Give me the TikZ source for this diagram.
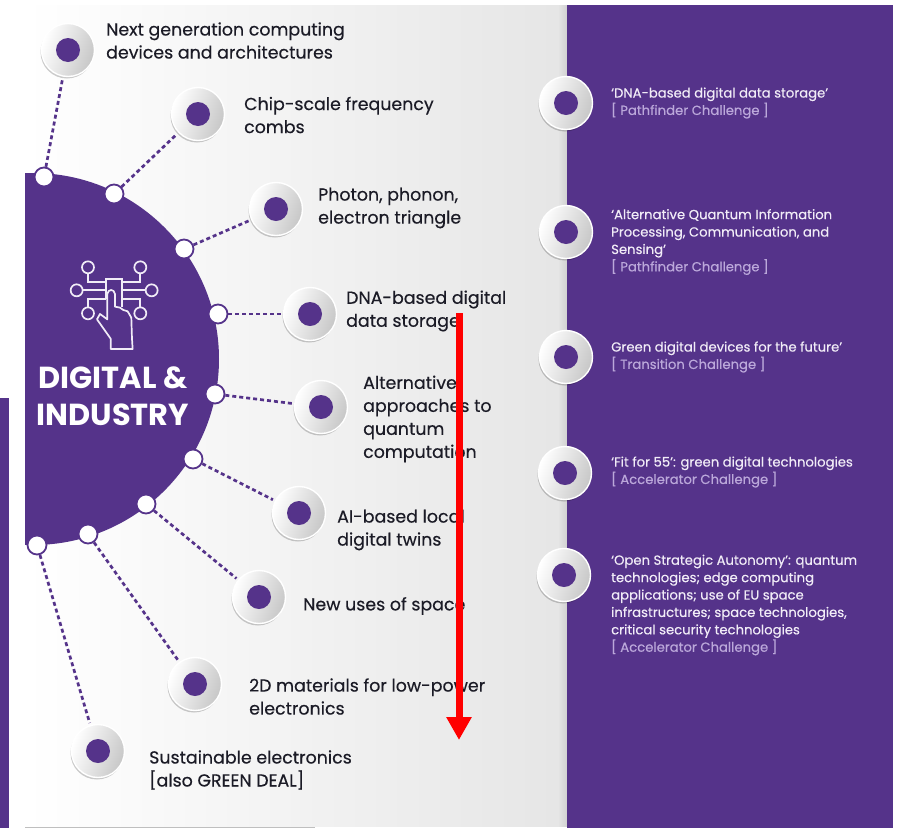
\documentclass[tikz,border=0pt]{standalone}
\usepackage{fontspec}
\setmainfont{Poppins}
\newfontfamily\medfont[FakeBold=0.35]{Poppins}
\usetikzlibrary{arrows.meta,shadows,calc}
\definecolor{vio}{HTML}{55338A}
\definecolor{ink}{HTML}{1B1B26}
\definecolor{lil}{HTML}{BBA8DA}
\definecolor{pale}{HTML}{F1ECF7}
\tikzset{
  discnode/.style={circle,minimum size=53pt,inner sep=0pt,draw=white,line width=1.4pt,
    left color=white,right color=black!22,shading angle=70,
    drop shadow={shadow xshift=-1pt,shadow yshift=-2pt,fill=black,opacity=.2},
    path picture={\fill[vio] (path picture bounding box.center) circle (12);}},
  portnode/.style={circle,minimum size=19pt,inner sep=0pt,fill=white,draw=vio,line width=1.8pt},
  link/.style={draw=vio,line width=2.7pt,dash pattern=on 4pt off 3pt},
  lefttext/.style={anchor=west,align=left,inner sep=0pt,text=ink,
    font=\fontsize{17.4}{23}\medfont},
  righttext/.style={anchor=west,align=left,inner sep=0pt,text=pale,
    font=\fontsize{13.2}{17.4}\medfont},
  icon/.style={draw=pale,line width=1.7pt,fill=none}
}
\newcommand{\chal}[1]{\textcolor{lil}{#1}}
\begin{document}
\begin{tikzpicture}[x=1pt,y=-1pt]
\useasboundingbox (0,0) rectangle (897,828);
\fill[white] (0,0) rectangle (897,828);
% panels
\fill[left color=white,middle color=black!4,right color=black!10] (25,5) rectangle (567,826);
\fill[left color=black!10,right color=black!18] (558,5) rectangle (567,826);
\fill[vio] (567,5) rectangle (893,828);
\fill[vio] (0,398) rectangle (9,828);
\draw[black!25,line width=1pt] (25,827) -- (315,827);
% hub
\begin{scope}
\clip (25,150) rectangle (240,570);
\fill[vio] (33,359) circle (186);
\end{scope}
% icon
\begin{scope}[shift={(0,150)},x=0.3333pt,y=-0.3333pt]
\draw[icon] (264,352) circle (18) (421,352) circle (18) (230,421) circle (18)
  (455,421) circle (18) (264,490) circle (18) (421,490) circle (18);
\draw[icon] (264,370) -- (264,396) -- (318,396) (421,370) -- (421,396) -- (365,396)
  (248,421) -- (318,421) (437,421) -- (365,421)
  (264,472) -- (264,447) -- (318,447) (421,472) -- (421,447) -- (365,447);
\draw[icon] (318,447) -- (318,386) -- (365,386) -- (365,470);
\draw[icon,fill=vio,line join=round] (332,597) -- (332,566) -- (291,508) -- (300,492) -- (322,508)
  -- (322,432) .. controls (324,416) and (343,416) .. (345,432) -- (345,470) -- (360,473)
  -- (370,480) -- (383,484) -- (394,503) -- (396,566) -- (398,597) -- cycle;
\end{scope}
\node[anchor=center,inner sep=0pt,text=white,align=center,
  font=\fontsize{30.4}{37}\selectfont\bfseries] (hubtext) at (113,396) {DIGITAL \&\\INDUSTRY};
% ports
\node[portnode] (p1) at (44,177) {};
\node[portnode] (p2) at (114,194) {};
\node[portnode] (p3) at (184,249) {};
\node[portnode] (p4) at (218,314) {};
\node[portnode] (p5) at (215,394) {};
\node[portnode] (p6) at (193,459) {};
\node[portnode] (p7) at (146,504) {};
\node[portnode] (p8) at (88,534) {};
\node[portnode] (p9) at (37,545) {};
% discs
\node[discnode] (d1) at (68,50) {};
\node[discnode] (d2) at (198,114) {};
\node[discnode] (d3) at (276,209) {};
\node[discnode] (d4) at (310,314) {};
\node[discnode] (d5) at (321,407) {};
\node[discnode] (d6) at (299,513) {};
\node[discnode] (d7) at (259,597) {};
\node[discnode] (d8) at (195,684) {};
\node[discnode] (d9) at (98,751) {};
\node[discnode] (r1) at (566,103) {};
\node[discnode] (r2) at (566,232) {};
\node[discnode] (r3) at (566,357) {};
\node[discnode] (r4) at (565,473) {};
\node[discnode] (r5) at (564,575) {};
% connectors
\foreach \i in {1,...,9}{\draw[link,shorten >=2pt] (p\i) -- (d\i);}
% left labels
\node[lefttext] (t1) at (106,40.5) {Next generation computing\\devices and architectures};
\node[lefttext] (t2) at (244,115) {Chip-scale frequency\\combs};
\node[lefttext] (t3) at (318,208) {Photon, phonon,\\electron triangle};
\node[lefttext] (t4) at (346,311) {DNA-based digital\\data storage};
\node[lefttext] (t5) at (363,419) {Alternative\\approaches to\\quantum\\computation};
\node[lefttext] (t6) at (337,530) {AI-based local\\digital twins};
\node[lefttext] (t7) at (303,606) {New uses of space};
\node[lefttext] (t8) at (249,696.5) {2D materials for low-power\\electronics};
\node[lefttext] (t9) at (149,770) {Sustainable electronics\\{[}also GREEN DEAL{]}};
% right labels
\node[righttext] (u1) at (611,103) {‘DNA-based digital data storage’\\\chal{[ Pathfinder Challenge ]}};
\node[righttext] (u2) at (611,242) {‘Alternative Quantum Information\\Processing, Communication, and\\Sensing’\\\chal{[ Pathfinder Challenge ]}};
\node[righttext] (u3) at (611,357) {Green digital devices for the future’\\\chal{[ Transition Challenge ]}};
\node[righttext] (u4) at (611,472) {‘Fit for 55’: green digital technologies\\\chal{[ Accelerator Challenge ]}};
\node[righttext] (u5) at (611,605) {‘Open Strategic Autonomy’: quantum\\technologies; edge computing\\applications; use of EU space\\infrastructures; space technologies,\\critical security technologies\\\chal{[ Accelerator Challenge ]}};
% red arrow
\coordinate (a0) at (459,313);
\coordinate (a1) at (459,740);
\draw[red,line width=7pt,-{Triangle[length=23pt,width=24pt]}] (a0) -- (a1);
\end{tikzpicture}
\end{document}
